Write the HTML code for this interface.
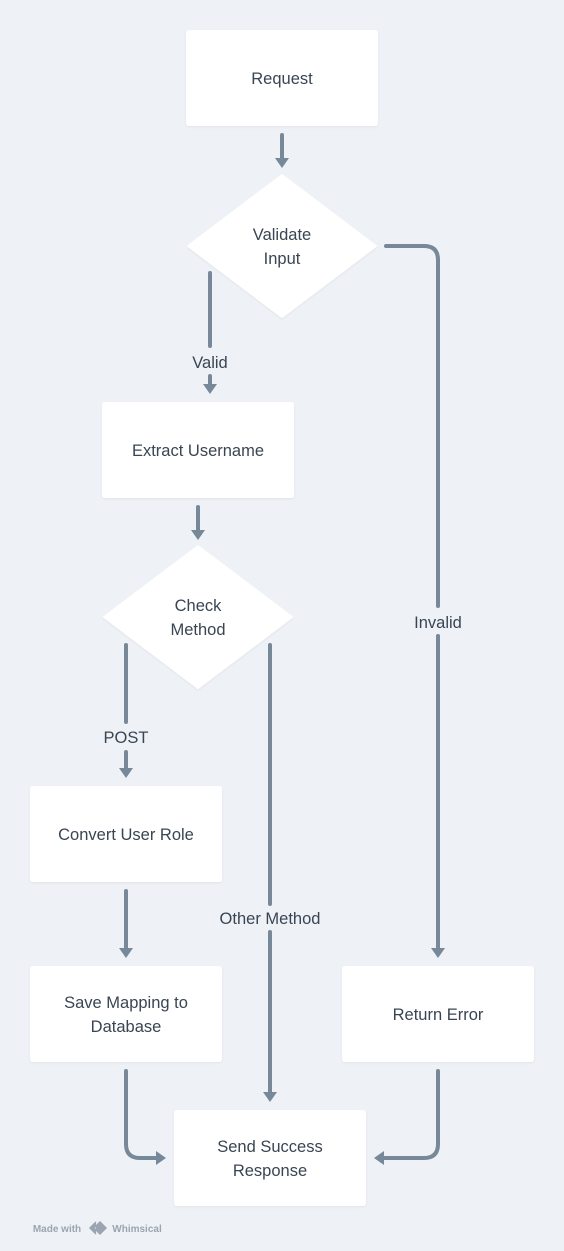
<!DOCTYPE html>
<html><head><meta charset="utf-8"><style>
html,body{margin:0;padding:0;background:#eef2f6;}
svg{display:block}
text{font-family:"Liberation Sans",sans-serif;font-size:16.5px;fill:#3a4553;text-anchor:middle;}
</style></head><body>
<svg width="564" height="1251" viewBox="0 0 564 1251" xmlns="http://www.w3.org/2000/svg">
<defs>
<filter id="s" x="-10%" y="-10%" width="120%" height="130%"><feDropShadow dx="0" dy="1" stdDeviation="1" flood-color="#000" flood-opacity="0.06"/></filter>
</defs>
<rect width="564" height="1251" fill="#eef2f6"/>
<g fill="none" stroke="#778899" stroke-width="4" stroke-linecap="round">
<path d="M282 135 V160"/>
<path d="M210 273 V346"/>
<path d="M210 376 V386"/>
<path d="M386 246 H424 Q438 246 438 260 V606"/>
<path d="M438 636 V950"/>
<path d="M198 507 V532"/>
<path d="M126 645 V722"/>
<path d="M126 752 V770"/>
<path d="M126 891 V950"/>
<path d="M270 645 V904"/>
<path d="M270 932 V1094"/>
<path d="M126 1071 V1144 Q126 1158 140 1158 H158"/>
<path d="M438 1071 V1144 Q438 1158 424 1158 H382"/>
</g>
<g fill="#778899">
<path d="M275 158 H289 L282 168 Z"/>
<path d="M203 384 H217 L210 394 Z"/>
<path d="M431 948 H445 L438 958 Z"/>
<path d="M191 530 H205 L198 540 Z"/>
<path d="M119 768 H133 L126 778 Z"/>
<path d="M119 948 H133 L126 958 Z"/>
<path d="M263 1092 H277 L270 1102 Z"/>
<path d="M156 1151 V1165 L166 1158 Z"/>
<path d="M384 1151 V1165 L374 1158 Z"/>
</g>
<g fill="#fff" filter="url(#s)">
<rect x="186" y="30" width="192" height="96" rx="3"/>
<path d="M282 175 L376 246 L282 317 L188 246 Z" stroke="#fff" stroke-width="2" stroke-linejoin="round"/>
<rect x="102" y="402" width="192" height="96" rx="3"/>
<path d="M198 546 L292 617 L198 688 L104 617 Z" stroke="#fff" stroke-width="2" stroke-linejoin="round"/>
<rect x="30" y="786" width="192" height="96" rx="3"/>
<rect x="30" y="966" width="192" height="96" rx="3"/>
<rect x="342" y="966" width="192" height="96" rx="3"/>
<rect x="174" y="1110" width="192" height="96" rx="3"/>
</g>
<text x="282" y="84">Request</text>
<text x="282" y="240">Validate</text>
<text x="282" y="264">Input</text>
<text x="210" y="368">Valid</text>
<text x="438" y="628">Invalid</text>
<text x="198" y="456">Extract Username</text>
<text x="198" y="611">Check</text>
<text x="198" y="635">Method</text>
<text x="126" y="743">POST</text>
<text x="126" y="840">Convert User Role</text>
<text x="126" y="1008">Save Mapping to</text>
<text x="126" y="1032">Database</text>
<text x="270" y="924">Other Method</text>
<text x="438" y="1020">Return Error</text>
<text x="270" y="1152">Send Success</text>
<text x="270" y="1176">Response</text>
<text x="57" y="1232" style="font-size:10px;font-weight:bold;fill:#9aa5b1">Made with</text>
<path d="M96 1222 L90 1228 L96 1234 M100 1222 L106 1228 L100 1234 L94 1228 Z" fill="#9aa5b1" stroke="#9aa5b1" stroke-width="1.5"/>
<text x="137" y="1232" style="font-size:10px;font-weight:bold;fill:#9aa5b1">Whimsical</text>
</svg>
</body></html>
